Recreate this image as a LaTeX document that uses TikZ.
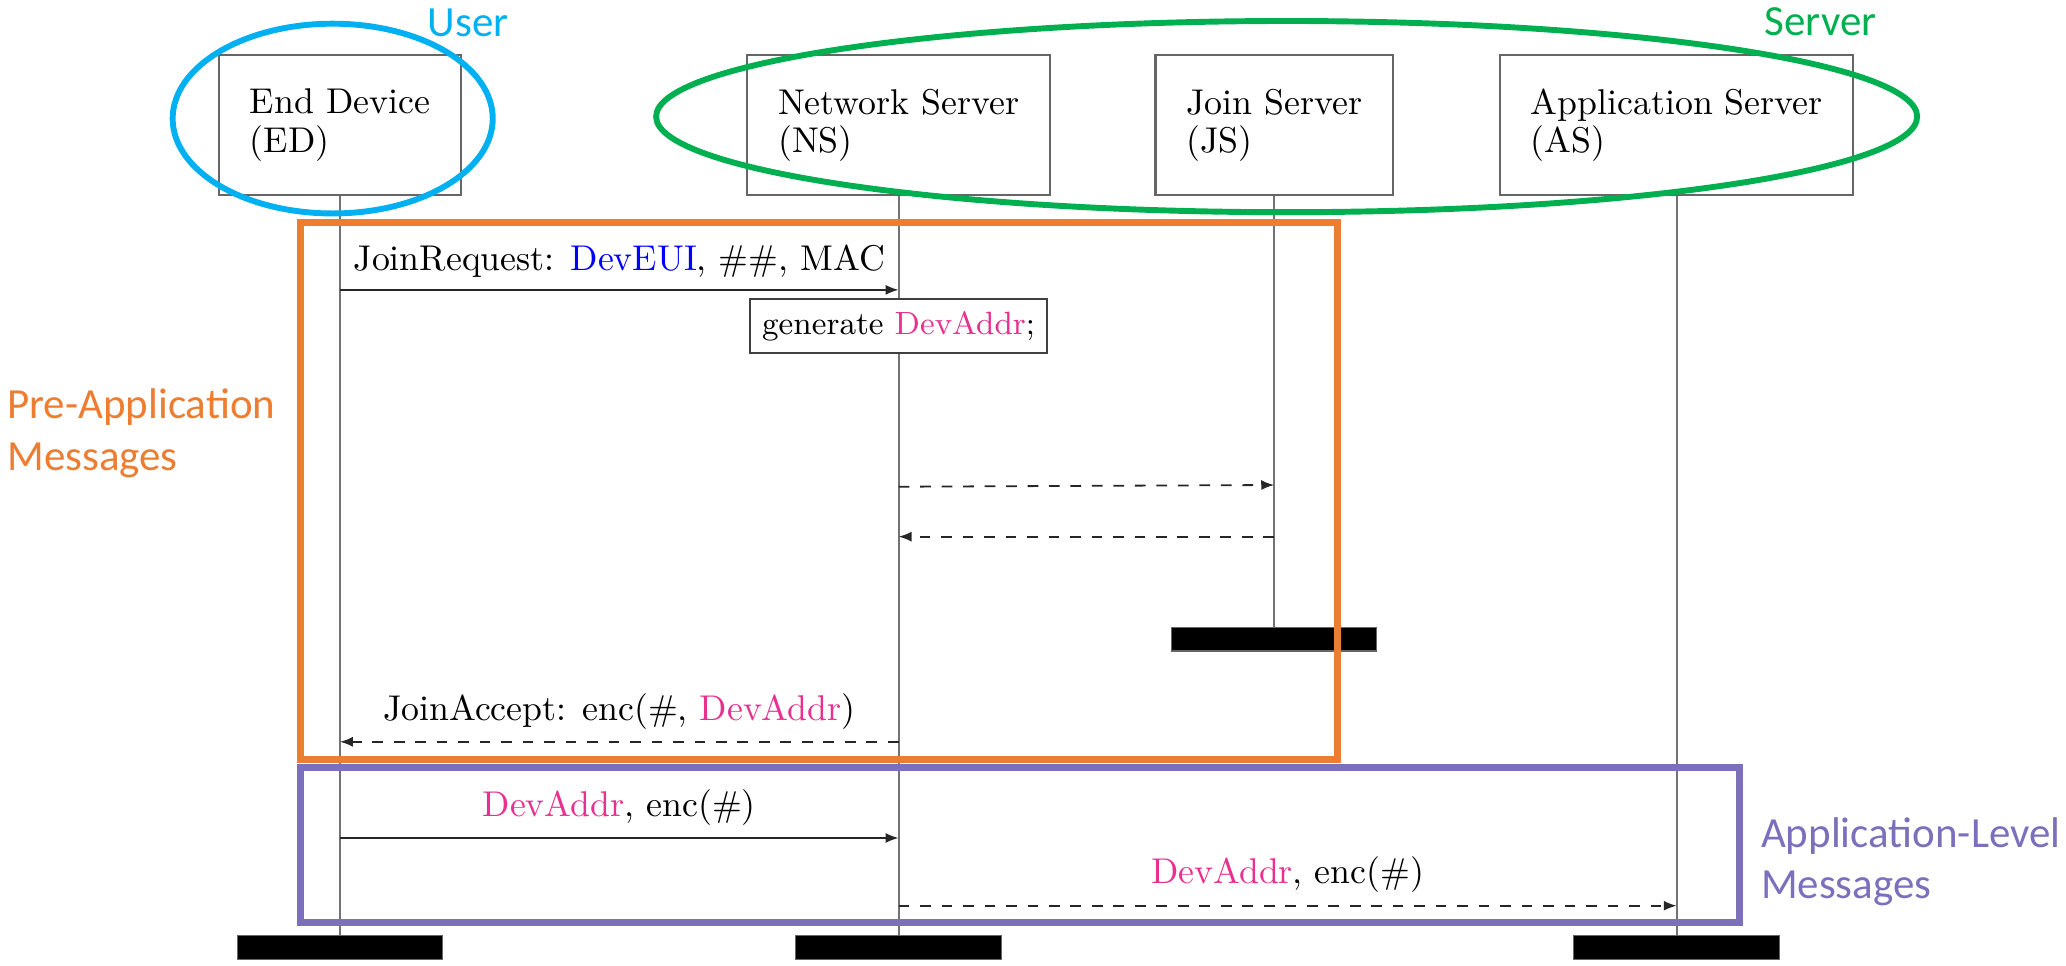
\documentclass[tikz,border=0pt]{standalone}
\usepackage{fontspec}
\newfontfamily\officefont{Carlito}
\usetikzlibrary{arrows.meta,shapes.geometric}
\definecolor{userblue}{HTML}{00B0F0}
\definecolor{servergreen}{HTML}{00B050}
\definecolor{preorange}{HTML}{ED7D31}
\definecolor{apppurple}{HTML}{7C6FBB}
\definecolor{addrpink}{HTML}{E9308F}
\begin{document}
\begin{tikzpicture}[x=0.368pt,y=-0.368pt,
  actor/.style={draw=black!60, line width=0.6pt, fill=white, align=left,
    font=\fontsize{10}{10.7}\selectfont,
    minimum height=39pt, inner xsep=8.6pt},
  lifeline/.style={draw=black!55, line width=0.6pt},
  endbar/.style={fill=black, draw=black!60, line width=0.3pt,
    minimum width=57.4pt, minimum height=6.7pt, inner sep=0pt},
  msg/.style={draw=black!85, line width=0.5pt, -{Latex[length=3.6pt,width=2.8pt]}},
  reply/.style={msg, dashed},
  action/.style={draw=black!75, line width=0.6pt, fill=white, font=\small,
    inner xsep=3.4pt, minimum height=15pt},
  ring/.style={ellipse, draw, line width=1.65pt, inner sep=0pt},
  groupbox/.style={line width=1.85pt},
  tag/.style={font=\officefont\fontsize{12}{14.4}\selectfont, inner sep=0pt}
]
\useasboundingbox (0,0) rectangle (1568,733);

% participants
\node[actor] (ed) at (258,95) {End Device\\(ED)};
\node[actor] (ns) at (682,95) {Network Server\\(NS)};
\node[actor] (js) at (967,95) {Join Server\\(JS)};
\node[actor] (as) at (1272.5,95) {Application Server\\(AS)};

% end-of-lifeline bars
\node[endbar] (edend) at (258,719) {};
\node[endbar] (nsend) at (682,719) {};
\node[endbar] (jsend) at (967,485) {};
\node[endbar] (asend) at (1272.5,719) {};

% lifelines
\draw[lifeline] (ed.south) -- (edend.north);
\draw[lifeline] (ns.south) -- (nsend.north);
\draw[lifeline] (js.south) -- (jsend.north);
\draw[lifeline] (as.south) -- (asend.north);

% message end points on the lifelines
\coordinate (jr-ed) at (258,220);   \coordinate (jr-ns) at (682,220);
\coordinate (q-ns)  at (682,369.4); \coordinate (q-js)  at (967,368.1);
\coordinate (r-js)  at (967,407.3); \coordinate (r-ns)  at (682,407.3);
\coordinate (ja-ns) at (682,563);   \coordinate (ja-ed) at (258,563);
\coordinate (d1-ed) at (258,636);   \coordinate (d1-ns) at (682,636);
\coordinate (d2-ns) at (682,687.4); \coordinate (d2-as) at (1272.5,687.4);

% messages
\draw[msg] (jr-ed) -- node[above] (jrlbl)
  {JoinRequest: \textcolor{blue}{DevEUI}, \#\#, MAC} (jr-ns);
\node[action] (gen) at (682,247.5) {generate \textcolor{addrpink}{DevAddr};};
\draw[reply] (q-ns) -- (q-js);
\draw[reply] (r-js) -- (r-ns);
\draw[reply] (ja-ns) -- node[above] (jalbl)
  {JoinAccept: enc(\#, \textcolor{addrpink}{DevAddr})} (ja-ed);
\draw[msg] (d1-ed) -- node[above] (d1lbl)
  {\textcolor{addrpink}{DevAddr}, enc(\#)} (d1-ns);
\draw[reply] (d2-ns) -- node[above] (d2lbl)
  {\textcolor{addrpink}{DevAddr}, enc(\#)} (d2-as);

% role groupings
\node[ring, draw=userblue, minimum width=89.4pt, minimum height=53pt]
  (userring) at (252.5,90) {};
\node[ring, draw=servergreen, minimum width=352.2pt, minimum height=53.4pt]
  (serverring) at (976.5,88.5) {};

% message phases
\draw[groupbox, preorange] (228,169) rectangle (1015,576.5);
\draw[groupbox, apppurple] (228,582.5) rectangle (1320,700);

% annotations
\node[tag, text=userblue, anchor=base west] (usertag) at (324,27.8) {User};
\node[tag, text=servergreen, anchor=base west] (servertag) at (1338.7,26.6) {Server};
\node[tag, text=preorange, align=left, anchor=west] (pretag) at (5,329)
  {Pre-Application\\Messages};
\node[tag, text=apppurple, align=left, anchor=west] (apptag) at (1336,654)
  {Application-Level\\Messages};
\end{tikzpicture}
\end{document}
